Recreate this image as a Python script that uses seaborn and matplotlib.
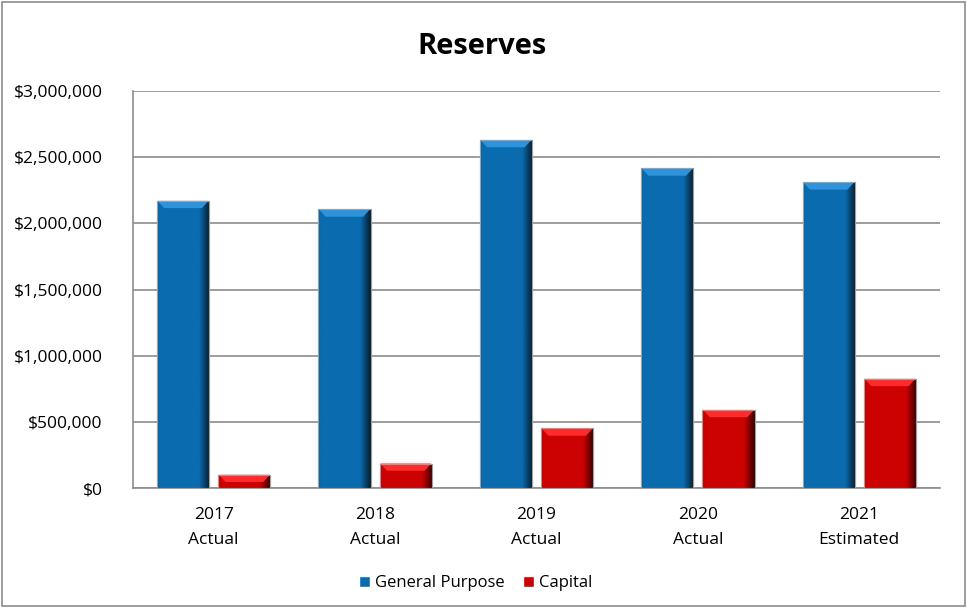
import matplotlib
matplotlib.use("Agg")
import matplotlib.pyplot as plt
import seaborn as sns
import pandas as pd
import numpy as np
from matplotlib.ticker import FuncFormatter
from matplotlib.patches import Rectangle, Polygon
from matplotlib.colors import to_rgb

categories = ["2017\nActual", "2018\nActual", "2019\nActual", "2020\nActual", "2021\nEstimated"]
general_purpose = [2170000, 2105000, 2630000, 2415000, 2310000]
capital = [100000, 185000, 450000, 590000, 825000]
series_names = ["General Purpose", "Capital"]
colors = ["#0A6CAF", "#CC0202"]
highlights = ["#2E93DA", "#FF2A2A"]

df = pd.DataFrame({
    "Year": categories * 2,
    "Value": general_purpose + capital,
    "Series": [series_names[0]] * len(categories) + [series_names[1]] * len(categories),
})

sns.set_theme(style="white")
plt.rcParams["font.family"] = ["Open Sans", "DejaVu Sans"]
plt.rcParams["text.color"] = "black"

fig = plt.figure(figsize=(9.67, 6.08), dpi=100)
ax = fig.add_axes([133 / 967, (608 - 488) / 608, (940 - 133) / 967, (488 - 91) / 608])

sns.barplot(data=df, x="Year", y="Value", hue="Series", palette=colors, saturation=1,
            width=0.76, gap=0.15, ax=ax, edgecolor="#a0a0a0", linewidth=0.8,
            legend=True, zorder=3)

ax.set_ylim(0, 3000000)
xlim = ax.get_xlim()

# bevel shading derived from the drawn bar patches
for i, p in enumerate(ax.patches):
    if not isinstance(p, Rectangle) or p.get_height() <= 0:
        continue
    x0, y0, w, h = p.get_x(), p.get_y(), p.get_width(), p.get_height()
    base = np.array(to_rgb(p.get_facecolor()))
    t = np.linspace(0, 1, 80)
    fac = np.ones_like(t)
    fac = np.where(t > 0.8, 1 - (t - 0.8) / 0.2 * 0.72, fac)
    fac = np.where(t < 0.05, 0.85 + t / 0.05 * 0.15, fac)
    img = np.clip(base[None, None, :] * fac[None, :, None], 0, 1)
    img = np.repeat(img, 2, axis=0)
    im = ax.imshow(img, extent=(x0, x0 + w, y0, y0 + h), aspect="auto",
                   interpolation="bilinear", zorder=3.5, origin="lower")
    im.set_clip_path(p)
    hl = highlights[0] if np.allclose(base, to_rgb(colors[0]), atol=0.02) else highlights[1]
    band = min(0.55 * h, 55000)
    inset = w * 0.14
    ax.add_patch(Polygon([(x0 + 0.01 * w, y0 + h), (x0 + 0.99 * w, y0 + h),
                          (x0 + w - inset, y0 + h - band), (x0 + inset, y0 + h - band)],
                         closed=True, facecolor=hl, edgecolor="none", zorder=3.6))
    ax.add_patch(Rectangle((x0, y0), w, h, fill=False, edgecolor="#a0a0a0",
                           linewidth=0.8, zorder=3.7))
ax.set_xlim(xlim)
ax.set_ylim(0, 3000000)

ax.set_yticks(np.arange(0, 3000001, 500000))
ax.yaxis.set_major_formatter(FuncFormatter(lambda v, p: "${:,.0f}".format(v)))
ax.grid(axis="y", color="#8c8c8c", linewidth=1.2, zorder=0)
ax.set_axisbelow(True)
ax.set_xlabel("")
ax.set_ylabel("")
for s in ["top", "right"]:
    ax.spines[s].set_visible(False)
for s in ["left", "bottom"]:
    ax.spines[s].set_color("#8c8c8c")
    ax.spines[s].set_linewidth(1.2)
ax.tick_params(axis="both", length=0, labelsize=12.5, colors="black")
ax.tick_params(axis="y", pad=22)
ax.tick_params(axis="x", pad=14)
for lbl in ax.get_xticklabels():
    lbl.set_linespacing(1.75)

ax.legend_.remove()
handles = [Rectangle((0, 0), 1, 1, facecolor=c) for c in colors]
fig.legend(handles, series_names, loc="center", bbox_to_anchor=(0.492, 1 - 583 / 608),
           ncol=2, frameon=False, fontsize=12, handlelength=0.65, handleheight=0.65,
           handletextpad=0.3, columnspacing=1.1)

fig.text(482 / 967, 1 - 46 / 608, "Reserves", ha="center", va="center",
         fontsize=21, fontweight="bold", color="black")

fig.patches.append(Rectangle((2 / 967, 2 / 608), 963 / 967, 604 / 608, transform=fig.transFigure,
                             fill=False, edgecolor="#8c8c8c", linewidth=1.2))

fig.savefig("out.png", dpi=100)
